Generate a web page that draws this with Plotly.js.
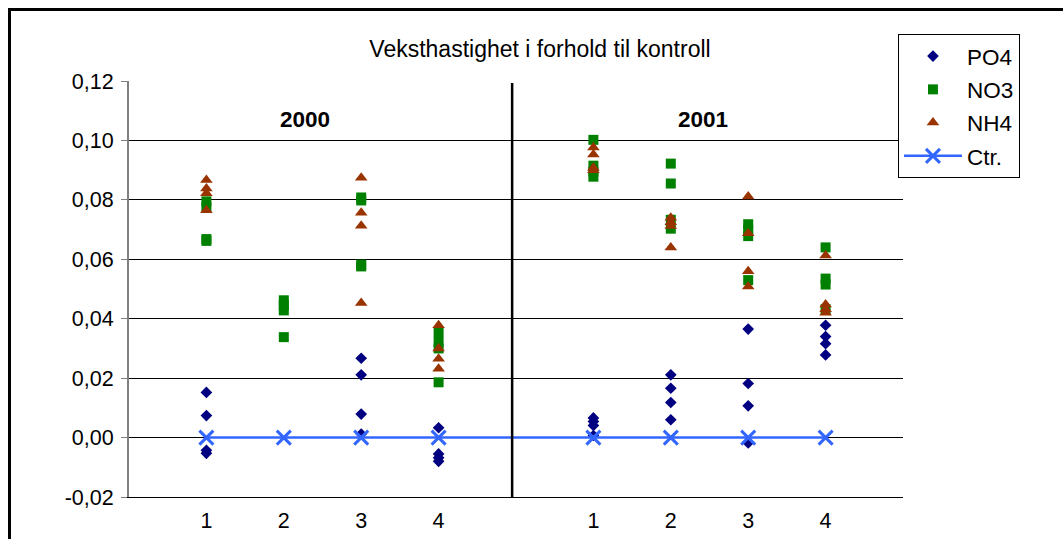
<!DOCTYPE html>
<html>
<head>
<meta charset="utf-8">
<script src="https://cdn.plot.ly/plotly-3.0.1.min.js"></script>
<style>
  html, body { margin: 0; padding: 0; background: #fff; overflow: hidden; }
  #chart { position: absolute; left: 0; top: 0; width: 1063px; height: 539px; }
  #frame { position: absolute; left: 8px; top: 8px; width: 2000px; height: 2000px;
           border: 3px solid #000; pointer-events: none; }
</style>
</head>
<body>
<div id="chart"></div>
<div id="frame"></div>
<script>
// Group positions on the x axis (2000: 1-4, 2001: 6-9) and their labels
const groupX = [1, 2, 3, 4, 6, 7, 8, 9];
const tickLabels = ['1', '2', '3', '4', '1', '2', '3', '4'];
const yearLabels = ['2000', '2001'];
const yTicks = [-0.02, 0, 0.02, 0.04, 0.06, 0.08, 0.10, 0.12];

// Growth rate relative to control, per group
const po4 = [
  [0.0152, 0.0074, -0.0043, -0.0053],
  [],
  [0.0267, 0.0211, 0.0079, 0.0012],
  [0.0033, -0.0055, -0.0068, -0.0080],
  [0.0066, 0.0054, 0.0041, 0.0007],
  [0.0211, 0.0166, 0.0118, 0.0060],
  [0.0365, 0.0182, 0.0107, -0.0018],
  [0.0378, 0.0340, 0.0316, 0.0278]
];
const no3 = [
  [0.0795, 0.0775, 0.0668, 0.0662],
  [0.0462, 0.0445, 0.0428, 0.0338],
  [0.0808, 0.0798, 0.0582, 0.0576],
  [0.0355, 0.0322, 0.0300, 0.0186],
  [0.1002, 0.0915, 0.0895, 0.0878],
  [0.0922, 0.0855, 0.0733, 0.0703],
  [0.0718, 0.0700, 0.0678, 0.0530],
  [0.0640, 0.0535, 0.0515, 0.0432]
];
const nh4 = [
  [0.0867, 0.0838, 0.0822, 0.0765],
  [],
  [0.0874, 0.0757, 0.0713, 0.0453],
  [0.0378, 0.0300, 0.0265, 0.0232],
  [0.0976, 0.0953, 0.0908, 0.0900],
  [0.0740, 0.0725, 0.0712, 0.0640],
  [0.0811, 0.0688, 0.0560, 0.0508],
  [0.0613, 0.0448, 0.0432, 0.0420]
];
const ctr = [0, 0, 0, 0, 0, 0, 0, 0];

function flatten(groups) {
  const xs = [], ys = [];
  groups.forEach((vals, i) => vals.forEach(v => { xs.push(groupX[i]); ys.push(v); }));
  return { x: xs, y: ys };
}

const p = flatten(po4), n = flatten(no3), h = flatten(nh4);

const traces = [
  { type: 'scatter', mode: 'markers', name: 'PO4', x: p.x, y: p.y, legendgroup: 'a',
    marker: { symbol: 'diamond', size: 9, color: '#000080' } },
  { type: 'scatter', mode: 'markers', name: 'NO3', x: n.x, y: n.y, legendgroup: 'b',
    marker: { symbol: 'square', size: 10, color: '#008000' } },
  { type: 'scatter', mode: 'markers', name: 'NH4', x: h.x, y: h.y, legendgroup: 'c',
    marker: { symbol: 'triangle-up', size: 11, color: '#993300' } },
  { type: 'scatter', mode: 'lines+markers', name: 'Ctr.', x: groupX, y: ctr, legendgroup: 'd',
    line: { color: '#3366FF', width: 2.5 },
    marker: { symbol: 'x-thin', size: 14, color: '#3366FF', line: { color: '#3366FF', width: 3 } } }
];

const layout = {
  width: 1063, height: 539,
  paper_bgcolor: 'rgba(0,0,0,0)', plot_bgcolor: '#fff',
  margin: { l: 129, r: 160, t: 81, b: 42 },
  font: { family: 'Liberation Sans, Arial, sans-serif', color: '#000', size: 21 },
  title: { text: 'Veksthastighet i forhold til kontroll', x: 0.508, xanchor: 'center',
           y: 0.91, yanchor: 'middle', font: { size: 23, color: '#000' } },
  showlegend: true,
  legend: { x: 0.9935, xanchor: 'left', y: 1.113, yanchor: 'top',
            bgcolor: '#fff', bordercolor: '#000', borderwidth: 1,
            font: { size: 22.5 }, traceorder: 'grouped', tracegroupgap: 1, itemwidth: 58 },
  xaxis: {
    range: [0, 10], tickvals: groupX, ticktext: tickLabels,
    showgrid: false, zeroline: false, showline: true, linecolor: '#000', linewidth: 1,
    ticks: '', ticklabelstandoff: 4, tickfont: { size: 21.5 }
  },
  yaxis: {
    range: [-0.02, 0.12], tickvals: yTicks,
    ticktext: yTicks.map(v => v.toFixed(2).replace('.', ',')),
    showgrid: true, gridcolor: '#000', gridwidth: 1,
    zeroline: false, showline: true, linecolor: '#808080', linewidth: 2,
    ticks: 'outside', ticklen: 6, tickcolor: '#808080', tickwidth: 1,
    ticklabelstandoff: 3, tickfont: { size: 21.5 }
  },
  shapes: [
    { type: 'line', xref: 'x', yref: 'y', x0: 4.95, x1: 4.95, y0: -0.0207, y1: 0.1193,
      line: { color: '#000', width: 2.5 } }
  ],
  annotations: [
    { text: '<b>' + yearLabels[0] + '</b>', xref: 'x', yref: 'y', x: 2.28, y: 0.1072,
      showarrow: false, font: { size: 22.5 } },
    { text: '<b>' + yearLabels[1] + '</b>', xref: 'x', yref: 'y', x: 7.42, y: 0.1072,
      showarrow: false, font: { size: 22.5 } }
  ]
};

Plotly.newPlot('chart', traces, layout, { displayModeBar: false, staticPlot: true });
</script>
</body>
</html>
